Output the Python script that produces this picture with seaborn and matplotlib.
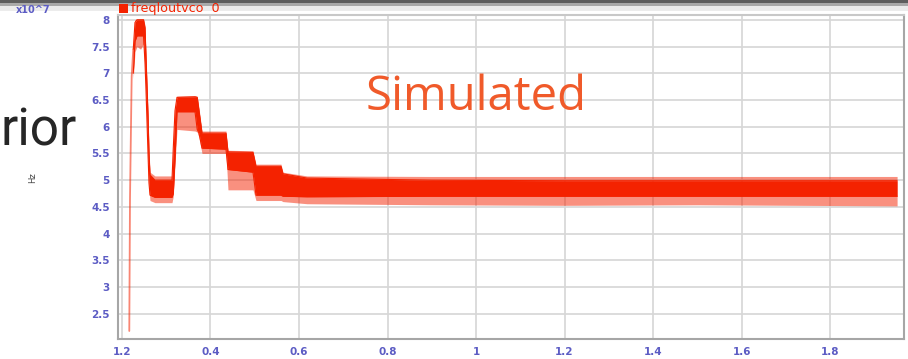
import matplotlib
matplotlib.use("Agg")
import matplotlib.pyplot as plt
from matplotlib.patches import Rectangle
import numpy as np
import pandas as pd
import seaborn as sns

# ---- waveform data (time in us, frequency in units of 1e7 Hz) ----
# initial thin start-up trace
rise_t = [0.2165, 0.2181, 0.2219, 0.2255]
rise_v = [2.18, 4.65, 6.94, 7.45]

# envelope of the dense part of the trace
time = [0.2255, 0.2294, 0.2339, 0.2420, 0.2486, 0.2520, 0.2542, 0.2588, 0.2610,
        0.2633, 0.2746, 0.3130, 0.3159, 0.3198, 0.3243, 0.3650, 0.3700, 0.3740,
        0.3808, 0.4350, 0.4395, 0.4960, 0.5028, 0.5593, 0.5638, 0.6181, 0.9000,
        1.2000, 1.5000, 1.9514]
band_hi = [7.45, 7.95, 8.00, 8.00, 8.00, 7.85, 7.30, 6.20, 5.50, 5.10, 5.00, 5.00,
           5.60, 6.30, 6.55, 6.56, 6.55, 6.30, 5.88, 5.88, 5.53, 5.52, 5.26, 5.26,
           5.12, 5.04, 5.00, 4.99, 4.99, 4.99]
band_lo = [7.00, 7.60, 7.70, 7.70, 7.70, 7.20, 6.70, 5.50, 4.95, 4.72, 4.68, 4.68,
           4.75, 5.40, 6.28, 6.28, 5.95, 5.88, 5.60, 5.58, 5.20, 5.15, 4.72, 4.72,
           4.70, 4.69, 4.70, 4.70, 4.70, 4.70]
# outer extent reached by the noise spikes
spike_hi = [7.50, 8.00, 8.02, 8.02, 8.02, 7.90, 7.40, 6.30, 5.60, 5.15, 5.08, 5.08,
            5.65, 6.35, 6.57, 6.58, 6.57, 6.35, 5.92, 5.92, 5.56, 5.55, 5.30, 5.30,
            5.15, 5.08, 5.07, 5.07, 5.07, 5.07]
spike_lo = [6.90, 7.40, 7.50, 7.45, 7.55, 7.00, 6.60, 5.40, 4.85, 4.62, 4.58, 4.58,
            4.70, 5.30, 5.95, 5.92, 5.90, 5.80, 5.50, 5.50, 4.82, 4.82, 4.62, 4.62,
            4.60, 4.56, 4.54, 4.53, 4.54, 4.52]

x_ticks = [0.2, 0.4, 0.6, 0.8, 1.0, 1.2, 1.4, 1.6, 1.8]
x_labels = ["1.2", "0.4", "0.6", "0.8", "1", "1.2", "1.4", "1.6", "1.8"]
y_ticks = [2.5, 3, 3.5, 4, 4.5, 5, 5.5, 6, 6.5, 7, 7.5, 8]
y_labels = ["2.5", "3", "3.5", "4", "4.5", "5", "5.5", "6", "6.5", "7", "7.5", "8"]

series_name = "freqloutvco  0"
overlay_text = "Simulated"

RED = "#f42200"
TICK = "#5c5cc4"

sns.set_theme(style="white")
plt.rcParams["font.family"] = ["DejaVu Sans"]

W, H = 908, 359
fig = plt.figure(figsize=(W / 100, H / 100), dpi=100)
fig.patch.set_facecolor("white")

# window chrome strip along the top edge
for y0, y1, c in [(0, 3, "#5e5e5e"), (3, 6.5, "#a9a9a9"), (6.5, 10.5, "#ececec")]:
    fig.patches.append(Rectangle((0, 1 - y1 / H), 1, (y1 - y0) / H,
                                 transform=fig.transFigure, color=c, lw=0))

ax = fig.add_axes([118 / W, (H - 339) / H, (904 - 118) / W, (339 - 15) / H])
ax.set_facecolor("white")

df = pd.DataFrame({"t": time, "hi": band_hi, "lo": band_lo,
                   "shi": spike_hi, "slo": spike_lo})

# noise fringe and dense core of the trace
ax.fill_between(df["t"], df["slo"], df["shi"], color=RED, alpha=0.5, lw=0, zorder=3)
ax.fill_between(df["t"], df["lo"], df["hi"], color=RED, lw=0, zorder=4)
sns.lineplot(data=df, x="t", y="hi", color=RED, lw=0.8, ax=ax, zorder=4)
sns.lineplot(data=df, x="t", y="lo", color=RED, lw=0.8, ax=ax, zorder=4)
sns.lineplot(x=rise_t, y=rise_v, color=RED, alpha=0.55, lw=1.3, ax=ax, zorder=4)

ax.set_xlim(0.191, 1.967)
ax.set_ylim(2.03, 8.09)
ax.set_xticks(x_ticks)
ax.set_xticklabels(x_labels)
ax.set_yticks(y_ticks)
ax.set_yticklabels(y_labels)
ax.set_xlabel("")
ax.set_ylabel("")
ax.grid(True, color="#d6d6d6", lw=1.2)
ax.set_axisbelow(True)
ax.tick_params(length=0, labelsize=7.5, labelcolor=TICK, pad=6)
for lab in ax.get_xticklabels() + ax.get_yticklabels():
    lab.set_fontweight("bold")
for side, sp in ax.spines.items():
    sp.set_visible(True)
    sp.set_color("#a6a6a6" if side in ("left", "right", "bottom") else "#c8c8c8")
    sp.set_linewidth(1.5)

# legend swatch and series name
fig.patches.append(Rectangle((119 / W, 1 - 13 / H), 9 / W, 9 / H,
                             transform=fig.transFigure, color=RED, lw=0))
fig.text(131 / W, 1 - 8.5 / H, series_name, color=RED, fontsize=9.2,
         ha="left", va="center")
fig.text(33 / W, 1 - 10 / H, "x10^7", color=TICK, fontsize=7, fontweight="bold",
         ha="center", va="center")

# slide text around the plot
fig.text(1 / W, 1 - 145 / H, "rior", color="#262626", fontsize=37,
         family="Roboto", ha="left", va="baseline")
fig.text(33 / W, 1 - 178 / H, "Hz", color="#444444", fontsize=6,
         rotation=90, ha="center", va="center")
fig.text(476 / W, 1 - 110 / H, overlay_text, color="#f05a2a", fontsize=34,
         family="Open Sans", ha="center", va="baseline")

fig.savefig("out.png", dpi=100, facecolor="white")
